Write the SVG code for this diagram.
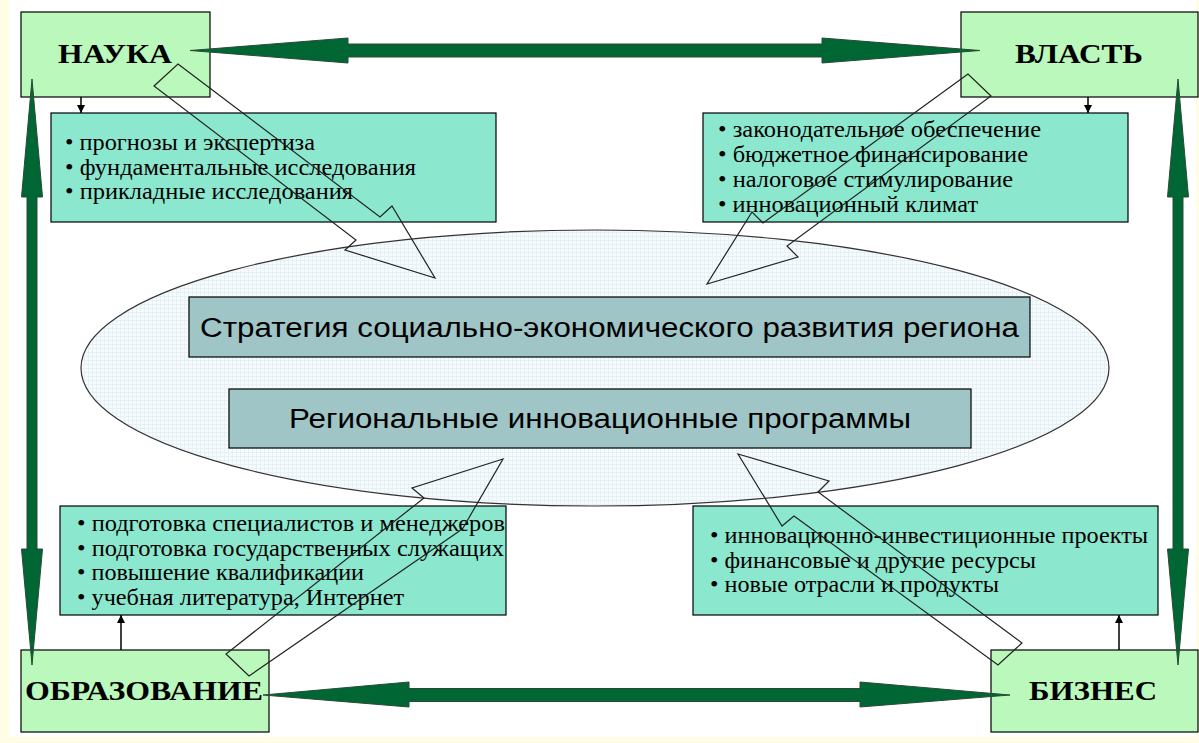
<svg xmlns="http://www.w3.org/2000/svg" width="1199" height="743" viewBox="0 0 1199 743">
<defs>
<style>
.node{fill:#BBF8BB;stroke:#000;stroke-width:1.2}
.info{fill:#8BE8CF;stroke:#000;stroke-width:1.2}
.core{fill:#9FC5C7;stroke:#000;stroke-width:1.2}
.title{font-family:"Liberation Serif","Times New Roman",serif;font-weight:bold;font-size:27px;fill:#000;text-anchor:middle}
.bul{font-family:"Liberation Serif","Times New Roman",serif;font-size:24px;fill:#000}
.ctext{font-family:"Liberation Sans",Arial,sans-serif;font-size:27px;fill:#000;text-anchor:middle}
.big{fill:#006633;stroke:#2A4A35;stroke-width:1}
.block{fill:none;stroke:#222;stroke-width:1.2;stroke-linejoin:miter}
.thin{stroke:#000;stroke-width:1.5;fill:none}
</style>
<marker id="ah" viewBox="0 0 10 10" refX="10" refY="5" markerWidth="8" markerHeight="8" markerUnits="userSpaceOnUse" orient="auto">
<path d="M0,0 L10,5 L0,10 z" fill="#000"/>
</marker>
<pattern id="grid" width="4" height="4" patternUnits="userSpaceOnUse">
<rect width="4" height="4" fill="#F6FBFD"/>
<path d="M0,0.5 H4 M0.5,0 V4" stroke="#E6F0F5" stroke-width="1"/>
</pattern>
</defs>
<rect x="0" y="0" width="1199" height="743" fill="#FFFDE3"/>
<rect x="9" y="0" width="1187" height="737" fill="#FFFFFF"/>

<g id="ellipse">
<ellipse cx="595" cy="368" rx="514" ry="138" fill="url(#grid)" stroke="#333" stroke-width="1.2"/>
</g>
<g id="strategy">
<rect class="core" x="189" y="297" width="841" height="60"/>
<text class="ctext" x="609.5" y="337" textLength="819" lengthAdjust="spacingAndGlyphs">Стратегия социально-экономического развития региона</text>
</g>
<g id="programs">
<rect class="core" x="229" y="389" width="742" height="59"/>
<text class="ctext" x="600" y="428" textLength="622" lengthAdjust="spacingAndGlyphs">Региональные инновационные программы</text>
</g>

<g id="nauka-info">
<rect class="info" x="51" y="113" width="445" height="109"/>
<text class="bul" x="65" y="150" textLength="250" lengthAdjust="spacingAndGlyphs">• прогнозы и экспертиза</text>
<text class="bul" x="65" y="174.5" textLength="351" lengthAdjust="spacingAndGlyphs">• фундаментальные исследования</text>
<text class="bul" x="65" y="199" textLength="288" lengthAdjust="spacingAndGlyphs">• прикладные исследования</text>
</g>
<g id="vlast-info">
<rect class="info" x="703" y="113" width="425" height="109"/>
<text class="bul" x="718" y="137" textLength="323" lengthAdjust="spacingAndGlyphs">• законодательное обеспечение</text>
<text class="bul" x="718" y="162" textLength="310" lengthAdjust="spacingAndGlyphs">• бюджетное финансирование</text>
<text class="bul" x="718" y="187" textLength="295" lengthAdjust="spacingAndGlyphs">• налоговое стимулирование</text>
<text class="bul" x="718" y="212" textLength="260" lengthAdjust="spacingAndGlyphs">• инновационный климат</text>
</g>
<g id="obraz-info">
<rect class="info" x="60" y="506" width="446" height="109"/>
<text class="bul" x="77" y="531" textLength="428" lengthAdjust="spacingAndGlyphs">• подготовка специалистов и менеджеров</text>
<text class="bul" x="77" y="556" textLength="427" lengthAdjust="spacingAndGlyphs">• подготовка государственных служащих</text>
<text class="bul" x="77" y="580" textLength="287" lengthAdjust="spacingAndGlyphs">• повышение квалификации</text>
<text class="bul" x="77" y="605" textLength="327" lengthAdjust="spacingAndGlyphs">• учебная литература, Интернет</text>
</g>
<g id="biznes-info">
<rect class="info" x="693" y="506" width="465" height="109"/>
<text class="bul" x="710" y="543" textLength="438" lengthAdjust="spacingAndGlyphs">• инновационно-инвестиционные проекты</text>
<text class="bul" x="710" y="568" textLength="326" lengthAdjust="spacingAndGlyphs">• финансовые и другие ресурсы</text>
<text class="bul" x="710" y="592" textLength="289" lengthAdjust="spacingAndGlyphs">• новые отрасли и продукты</text>
</g>

<g id="nauka">
<rect class="node" x="21" y="12" width="189" height="85"/>
<text class="title" x="115" y="63" textLength="114" lengthAdjust="spacingAndGlyphs">НАУКА</text>
</g>
<g id="vlast">
<rect class="node" x="961" y="12" width="237" height="85"/>
<text class="title" x="1079" y="63" textLength="128" lengthAdjust="spacingAndGlyphs">ВЛАСТЬ</text>
</g>
<g id="obrazovanie">
<rect class="node" x="21" y="650" width="248" height="82"/>
<text class="title" x="144" y="700" textLength="238" lengthAdjust="spacingAndGlyphs">ОБРАЗОВАНИЕ</text>
</g>
<g id="biznes">
<rect class="node" x="991" y="650" width="207" height="82"/>
<text class="title" x="1093" y="700" textLength="128" lengthAdjust="spacingAndGlyphs">БИЗНЕС</text>
</g>

<g id="connectors">
<polygon class="big" points="190,50.5 348,38 348,44 822,44 822,38 980,50.5 822,63 822,57 348,57 348,63"/>
<polygon class="big" points="263,695 409,682 409,688.5 860,688.5 860,682 1010,695 860,707 860,701.5 409,701.5 409,707"/>
<polygon class="big" points="32,79 42.5,197 37,197 37,549 42.5,549 32,665 21.5,549 27,549 27,197 21.5,197"/>
<polygon class="big" points="1178,79 1188.5,197 1183,197 1183,549 1188.5,549 1178,665 1167.5,549 1173,549 1173,197 1167.5,197"/>

<line class="thin" x1="81" y1="97" x2="81" y2="113" marker-end="url(#ah)"/>
<line class="thin" x1="1088" y1="97" x2="1088" y2="113" marker-end="url(#ah)"/>
<line class="thin" x1="121" y1="650" x2="121" y2="615" marker-end="url(#ah)"/>
<line class="thin" x1="1119" y1="650" x2="1119" y2="615" marker-end="url(#ah)"/>

<polygon class="block" points="178,64 380,217 392,206 435,278 345,250 356,240 154,86"/>
<polygon class="block" points="968,74 763,223 752,212 707,284 798,257 787,246 991,96"/>
<polygon class="block" points="503,459 412,488 424,498 226,654 249,676 458,532 463,528"/>
<polygon class="block" points="738,454 829,481 818,492 1022,643 998,665 794,516 782,526"/>
</g>
</svg>
